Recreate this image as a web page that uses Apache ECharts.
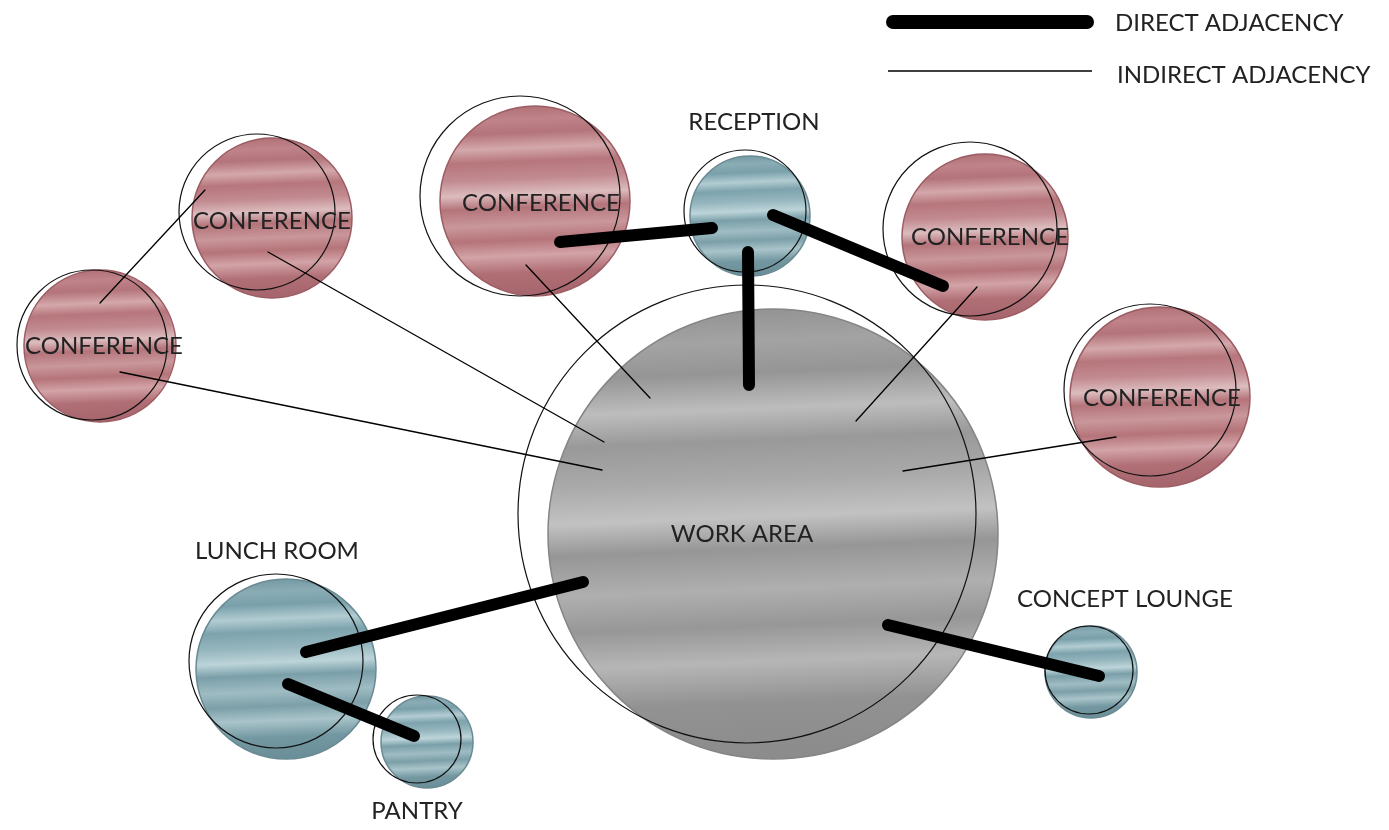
<!DOCTYPE html>
<html>
<head>
    <meta charset="UTF-8">
    <title>Adjacency diagram</title>
    <script src="https://cdn.jsdelivr.net/npm/echarts@6/dist/echarts.min.js"></script>
</head>
<body style="margin: 0; background: #fff;">
<div id="container" style="width: 1389px; height: 830px;"></div>
<script type="text/javascript">
    // rooms: filled bubble (centre + radius) and the hand-drawn outline beside it
    var roomNames = ['WORK AREA', 'RECEPTION', 'CONFERENCE', 'CONFERENCE', 'CONFERENCE', 'CONFERENCE', 'CONFERENCE', 'LUNCH ROOM', 'PANTRY', 'CONCEPT LOUNGE'];
    var roomKind = ['work', 'service', 'meet', 'meet', 'meet', 'meet', 'meet', 'service', 'service', 'service'];
    var roomX = [773, 750, 535, 272, 100, 985, 1160, 286, 427, 1091];
    var roomY = [534, 216, 201, 218, 346, 237, 397, 669, 742, 672];
    var roomR = [225, 60, 95, 80, 76, 83, 90, 90, 46, 46];
    var ringX = [747, 745, 520, 257, 92, 970, 1150, 276, 417, 1089];
    var ringY = [514, 211, 196, 212, 345, 229, 390, 661, 739, 670];
    var ringR = [229, 61, 100, 78, 75, 87, 86, 87, 44, 44];
    // label anchor (centre of the text)
    var labelX = [742, 754, 541, 272, 104, 990, 1162, 277, 417, 1125];
    var labelY = [534, 122, 203, 221, 346, 237, 398, 551, 811, 599];

    // adjacency links [x1, y1, x2, y2]
    var directLinks = [
        [560, 242, 712, 228],
        [773, 215, 943, 286],
        [748, 252, 749, 385],
        [583, 582, 306, 652],
        [288, 684, 414, 736],
        [888, 625, 1099, 676]
    ];
    var indirectLinks = [
        [205, 190, 100, 303],
        [268, 252, 604, 442],
        [120, 372, 602, 470],
        [526, 265, 650, 398],
        [977, 287, 856, 421],
        [1116, 437, 903, 471]
    ];

    var fills = {
        meet: ['#ad6a71', '#bf8389', '#b3747a', '#d4a8ab', '#b6767c', '#c28b91', '#dcbcbe', '#b4747a', '#c9979b', '#b57479', '#d2a3a7', '#b06e75', '#a7666d'],
        service: ['#6e949e', '#8aacb5', '#79a0aa', '#b2ccd2', '#7da3ad', '#96b6be', '#bcd4d9', '#7a9fa9', '#9fbcc3', '#7c9fa8', '#a9c4ca', '#7498a2', '#6b8f99'],
        work: ['#8f8f8f', '#a3a3a3', '#959595', '#bdbdbd', '#999999', '#aaaaaa', '#c2c2c2', '#969696', '#afafaf', '#979797', '#b6b6b6', '#929292', '#8c8c8c']
    };
    var edges = {meet: '#9b5d63', service: '#6a8a93', work: '#858585'};
    var stopAt = [0, 0.09, 0.16, 0.24, 0.31, 0.4, 0.48, 0.55, 0.64, 0.72, 0.8, 0.89, 1];

    function texture(kind) {
        var stops = [];
        for (var i = 0; i < stopAt.length; i++) {
            stops.push({offset: stopAt[i], color: fills[kind][i]});
        }
        return new echarts.graphic.LinearGradient(0, 0, 0.04, 1, stops);
    }

    var bubbleData = [], ringData = [], labelData = [];
    for (var i = 0; i < roomNames.length; i++) {
        bubbleData.push([roomX[i], roomY[i], roomR[i], i]);
        ringData.push([ringX[i], ringY[i], ringR[i]]);
        labelData.push([labelX[i], labelY[i], roomNames[i]]);
    }

    var dom = document.getElementById('container');
    var myChart = echarts.init(dom);

    function circleItem(fillIt) {
        return function (params, api) {
            var c = api.coord([api.value(0), api.value(1)]);
            var s = api.size([api.value(2), api.value(2)]);
            if (fillIt) {
                var kind = roomKind[api.value(3)];
                return {
                    type: 'circle',
                    shape: {cx: c[0], cy: c[1], r: s[0]},
                    style: {fill: texture(kind), stroke: edges[kind], lineWidth: 1.5}
                };
            }
            return {
                type: 'circle',
                shape: {cx: c[0], cy: c[1], r: s[0]},
                style: {fill: 'none', stroke: '#111', lineWidth: 1.2}
            };
        };
    }

    function linkItem(width) {
        return function (params, api) {
            var a = api.coord([api.value(0), api.value(1)]);
            var b = api.coord([api.value(2), api.value(3)]);
            return {
                type: 'line',
                shape: {x1: a[0], y1: a[1], x2: b[0], y2: b[1]},
                style: {stroke: '#000', lineWidth: width, lineCap: 'round'}
            };
        };
    }

    var option = {
        animation: false,
        backgroundColor: '#fff',
        grid: {left: 0, right: 0, top: 0, bottom: 0},
        xAxis: {type: 'value', min: 0, max: 1389, show: false},
        yAxis: {type: 'value', min: 0, max: 830, inverse: true, show: false},
        graphic: [
            {type: 'line', shape: {x1: 893, y1: 22, x2: 1087, y2: 22}, style: {stroke: '#000', lineWidth: 14, lineCap: 'round'}},
            {type: 'line', shape: {x1: 888, y1: 71, x2: 1092, y2: 71}, style: {stroke: '#000', lineWidth: 1.3}},
            {type: 'text', x: 1115, y: 23, style: {text: 'DIRECT ADJACENCY', font: '24px Lato', fill: '#222', verticalAlign: 'middle'}},
            {type: 'text', x: 1117, y: 75, style: {text: 'INDIRECT ADJACENCY', font: '24px Lato', fill: '#222', verticalAlign: 'middle'}}
        ],
        series: [
            {type: 'custom', name: 'rooms', renderItem: circleItem(true), data: bubbleData, silent: true, z: 1},
            {type: 'custom', name: 'outline', renderItem: circleItem(false), data: ringData, silent: true, z: 2},
            {type: 'custom', name: 'INDIRECT ADJACENCY', renderItem: linkItem(1.3), data: indirectLinks, silent: true, z: 3},
            {type: 'custom', name: 'DIRECT ADJACENCY', renderItem: linkItem(12), data: directLinks, silent: true, z: 4},
            {
                type: 'custom', name: 'labels', silent: true, z: 5,
                data: labelData,
                renderItem: function (params, api) {
                    var p = api.coord([api.value(0), api.value(1)]);
                    return {
                        type: 'text', x: p[0], y: p[1],
                        style: {text: labelData[params.dataIndex][2], font: '24px Lato', fill: '#222', align: 'center', verticalAlign: 'middle'}
                    };
                }
            }
        ]
    };
    myChart.setOption(option);
</script>
</body>
</html>
